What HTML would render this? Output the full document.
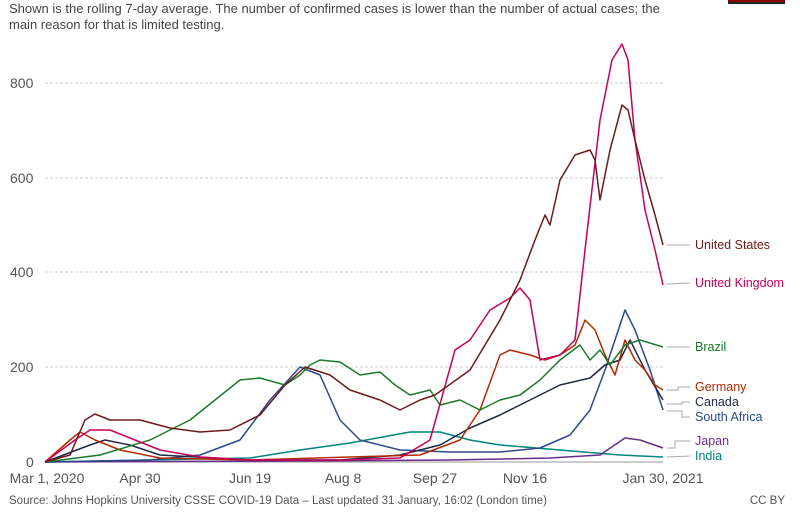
<!DOCTYPE html>
<html><head><meta charset="utf-8"><style>
body{margin:0;background:#fff;width:800px;height:512px;overflow:hidden;font-family:"Liberation Sans",sans-serif}
svg text{font-family:"Liberation Sans",sans-serif}
</style></head><body>
<svg width="800" height="512" xmlns="http://www.w3.org/2000/svg">
<rect x="728" y="0" width="57" height="2" fill="#8b0000"/><rect x="728" y="2" width="57" height="2" fill="#222"/>
<text x="9" y="13" font-size="13" fill="#444">Shown is the rolling 7-day average. The number of confirmed cases is lower than the number of actual cases; the</text>
<text x="9" y="29" font-size="13" fill="#444">main reason for that is limited testing.</text>
<g stroke="#ccc" stroke-dasharray="3,2" stroke-width="1">
<line x1="45" x2="663" y1="83" y2="83"/><line x1="45" x2="663" y1="178" y2="178"/><line x1="45" x2="663" y1="272" y2="272"/><line x1="45" x2="663" y1="367" y2="367"/>
</g>
<line x1="45" x2="663" y1="462" y2="462" stroke="#999"/>
<g font-size="14" fill="#555">
<text x="10" y="88">800</text><text x="10" y="183">600</text><text x="10" y="277">400</text><text x="10" y="372">200</text><text x="26" y="467">0</text>
</g>
<g font-size="14" fill="#555" text-anchor="middle">
<text x="47" y="483">Mar 1, 2020</text><text x="140" y="483">Apr 30</text><text x="250" y="483">Jun 19</text><text x="343" y="483">Aug 8</text><text x="435" y="483">Sep 27</text><text x="525" y="483">Nov 16</text><text x="663" y="483">Jan 30, 2021</text>
</g>
<g fill="none" stroke-width="1.5" stroke-linejoin="round">
<polyline stroke="#00847e" points="45,462 250,458 300,450 350,443 410,432 440,432 470,440 500,445 560,450 620,455 663,457"/>
<polyline stroke="#6a2c8a" points="45,462 300,461 450,460 550,458 600,455 625,438 640,440 663,448"/>
<polyline stroke="#2c4a8a" points="45,462 150,460 200,455 240,440 270,400 300,367 320,375 340,420 360,440 400,450 450,452 500,452 540,448 570,435 590,410 605,370 615,340 625,310 635,330 650,370 663,410"/>
<polyline stroke="#1f2a44" points="45,462 90,445 105,440 130,445 160,455 250,460 340,460 400,455 440,445 470,428 500,415 520,405 540,395 560,385 590,378 605,365 620,360 630,340 645,370 663,400"/>
<polyline stroke="#b22a00" points="45,462 70,440 80,432 95,440 120,450 160,458 250,460 350,457 420,455 460,440 480,410 500,355 510,350 530,355 545,360 560,355 575,345 585,320 595,330 605,355 615,375 625,340 635,360 645,370 655,385 663,390"/>
<polyline stroke="#1a7a2a" points="45,462 100,455 150,440 190,420 215,400 240,380 260,378 285,385 300,375 310,365 320,360 340,362 360,375 380,372 395,385 410,395 430,390 440,405 460,400 480,410 500,400 520,395 540,380 560,360 580,345 590,360 600,350 610,365 625,345 640,340 663,347"/>
<polyline stroke="#c8005a" points="45,462 75,440 90,430 110,430 130,438 160,450 200,457 250,460 340,460 400,458 430,440 455,350 470,340 490,310 510,298 520,288 530,300 540,360 560,355 575,340 585,250 600,120 612,60 622,44 628,60 635,140 645,210 655,250 663,285"/>
<polyline stroke="#6d1a1a" points="45,462 70,455 85,420 95,414 110,420 140,420 170,428 200,432 230,430 260,415 285,385 305,367 330,375 350,390 380,400 400,410 420,400 435,395 470,370 500,320 520,280 535,240 545,215 550,225 560,180 575,155 590,150 595,160 600,200 610,150 622,105 628,110 635,140 645,180 655,215 663,245"/>
</g>
<g fill="none" stroke="#aaa" stroke-width="1">
<polyline points="667,245 690,245"/><polyline points="667,284 690,283"/><polyline points="667,347 690,347"/>
<polyline points="667,390 678,390 678,387 690,387"/><polyline points="667,404 682,404 682,402 690,402"/><polyline points="667,411 682,411 682,417 690,417"/>
<polyline points="667,448 675,448 675,441 690,441"/><polyline points="667,457 690,456"/>
</g>
<g font-size="12.5">
<text x="695" y="249" fill="#6d1a1a">United States</text>
<text x="695" y="287" fill="#c8005a">United Kingdom</text>
<text x="695" y="351" fill="#1a7a2a">Brazil</text>
<text x="695" y="391" fill="#b22a00">Germany</text>
<text x="695" y="406" fill="#1f2a44">Canada</text>
<text x="695" y="421" fill="#2c4a8a">South Africa</text>
<text x="695" y="445" fill="#6a2c8a">Japan</text>
<text x="695" y="460" fill="#00847e">India</text>
</g>
<text x="9" y="504" font-size="11.5" fill="#555">Source: Johns Hopkins University CSSE COVID-19 Data – Last updated 31 January, 16:02 (London time)</text>
<text x="785" y="504" font-size="11.5" fill="#555" text-anchor="end">CC BY</text>
</svg>
</body></html>
